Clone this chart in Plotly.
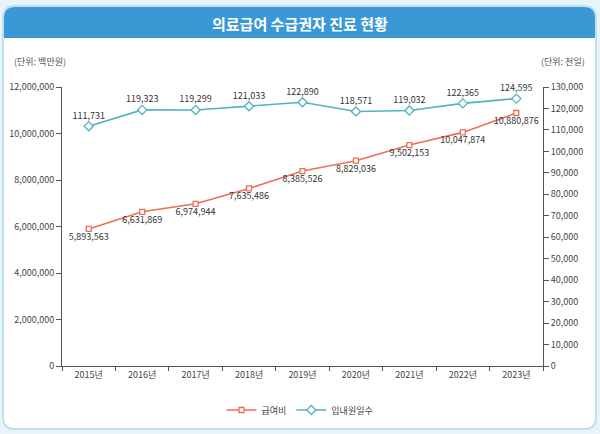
import plotly.graph_objects as go

years = ["2015년", "2016년", "2017년", "2018년", "2019년", "2020년", "2021년", "2022년", "2023년"]
benefit_cost = [5893563, 6631869, 6974944, 7635486, 8385526, 8829036, 9502153, 10047874, 10880876]
visit_days = [111731, 119323, 119299, 121033, 122890, 118571, 119032, 122365, 124595]
left_ticks = [0, 2000000, 4000000, 6000000, 8000000, 10000000, 12000000]
right_ticks = list(range(0, 130001, 10000))

W, H = 600, 434
L, R, T, B = 62, 543, 87, 366
FONT = "Noto Sans CJK KR"

def px(x):
    return (x - L) / (R - L)

def py(y):
    return (B - y) / (B - T)

RED = "#ec6f58"
TEAL = "#52b3c0"

fig = go.Figure()
fig.add_trace(go.Scatter(
    x=years, y=benefit_cost, name="급여비", mode="lines+markers+text",
    line=dict(color=RED, width=1.6),
    marker=dict(symbol="square", size=5, color="white", line=dict(color=RED, width=1.3)),
    text=[f"{v:,}" for v in benefit_cost], textposition="bottom center",
    textfont=dict(size=9, color="#333", family=FONT),
    cliponaxis=False,
))
fig.add_trace(go.Scatter(
    x=years, y=visit_days, name="입내원일수", mode="lines+markers+text", yaxis="y2",
    line=dict(color=TEAL, width=1.6),
    marker=dict(symbol="diamond", size=7, color="white", line=dict(color=TEAL, width=1.3)),
    text=[f"{v:,}" for v in visit_days], textposition="top center",
    textfont=dict(size=9, color="#333", family=FONT),
    cliponaxis=False,
))

def rrect(x0, y0, x1, y1, r, top_only=False):
    def P(x, y):
        return f"{px(x):.5f},{py(y):.5f}"
    if top_only:
        return (f"M {P(x0, y1)} L {P(x0, y0 + r)} Q {P(x0, y0)} {P(x0 + r, y0)} "
                f"L {P(x1 - r, y0)} Q {P(x1, y0)} {P(x1, y0 + r)} L {P(x1, y1)} Z")
    return (f"M {P(x0, y0 + r)} Q {P(x0, y0)} {P(x0 + r, y0)} L {P(x1 - r, y0)} "
            f"Q {P(x1, y0)} {P(x1, y0 + r)} L {P(x1, y1 - r)} Q {P(x1, y1)} {P(x1 - r, y1)} "
            f"L {P(x0 + r, y1)} Q {P(x0, y1)} {P(x0, y1 - r)} Z")

shapes = [
    dict(type="path", xref="paper", yref="paper", path=rrect(3, 6, 596, 429, 12),
         line=dict(color="#bfe0ee", width=2), fillcolor="white", layer="below"),
    dict(type="path", xref="paper", yref="paper", path=rrect(4, 7, 595, 38, 11, top_only=True),
         line=dict(width=0), fillcolor="#3a99d4", layer="below"),
]

annotations = [
    dict(text="<b>의료급여 수급권자 진료 현황</b>", x=0.5 * (px(0) + px(600)), xref="paper",
         y=py(23), yref="paper", xanchor="center", yanchor="middle", showarrow=False,
         font=dict(size=15, color="white", family=FONT)),
    dict(text="(단위: 백만원)", x=px(12), xref="paper", y=py(62), yref="paper",
         xanchor="left", yanchor="middle", showarrow=False,
         font=dict(size=9, color="#555", family=FONT)),
    dict(text="(단위: 천일)", x=px(587), xref="paper", y=py(62), yref="paper",
         xanchor="right", yanchor="middle", showarrow=False,
         font=dict(size=9, color="#555", family=FONT)),
]

fig.update_layout(
    width=W, height=H,
    margin=dict(l=L, r=W - R, t=T, b=H - B, autoexpand=False),
    paper_bgcolor="#e9f4f9", plot_bgcolor="rgba(0,0,0,0)",
    font=dict(family=FONT, size=9, color="#444"),
    showlegend=True,
    legend=dict(orientation="h", x=px(300), xanchor="center", y=py(410), yanchor="middle",
                font=dict(size=9, color="#444", family=FONT),
                bgcolor="rgba(0,0,0,0)"),
    xaxis=dict(type="category", showgrid=False, showline=True, linecolor="#555", linewidth=1,
               ticks="outside", tickson="boundaries", ticklen=4, tickcolor="#555",
               tickfont=dict(size=9, color="#444"), range=[-0.5, 8.5]),
    yaxis=dict(range=[0, 12000000], tickvals=left_ticks, ticktext=[f"{v:,}" for v in left_ticks],
               showgrid=False, showline=True, linecolor="#555", linewidth=1, ticks="outside",
               ticklen=5, tickcolor="#555", tickfont=dict(size=9, color="#444"), zeroline=False),
    yaxis2=dict(range=[0, 130000], tickvals=right_ticks, ticktext=[f"{v:,}" for v in right_ticks],
                overlaying="y", side="right", showgrid=False, showline=True, linecolor="#555",
                linewidth=1, ticks="outside", ticklen=5, tickcolor="#555",
                tickfont=dict(size=9, color="#444"), zeroline=False),
    shapes=shapes, annotations=annotations,
)

fig.write_html("out.html", config={"displayModeBar": False},
               post_script="document.body.style.margin='0';")
